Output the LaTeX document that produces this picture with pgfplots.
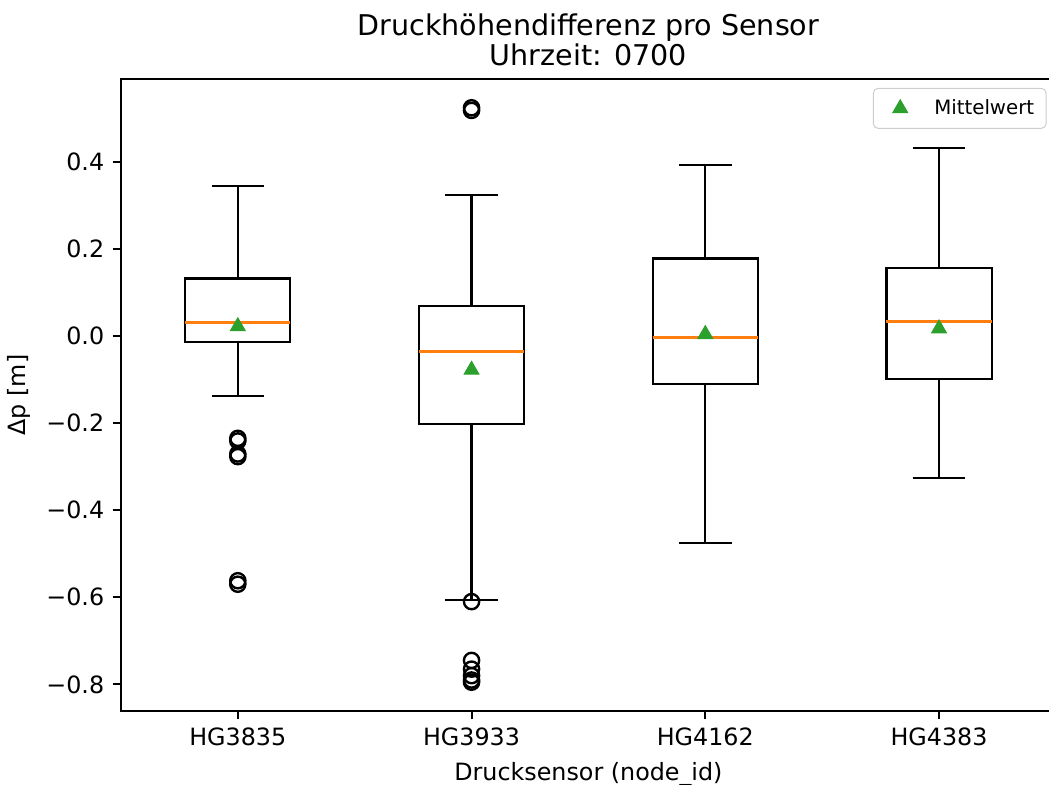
\documentclass[border=0pt]{standalone}
\usepackage{fontspec}
\setmainfont{DejaVu Sans}
\usepackage{pgfplots}
\pgfplotsset{compat=1.18}
\usepgfplotslibrary{statistics}

\definecolor{mplorange}{RGB}{255,127,14}
\definecolor{mplgreen}{RGB}{44,160,44}

\pgfplotsset{
  mplbox/.style={
    black, line width=0.9pt, forget plot,
    mark=o, mark size=3.2pt, mark options={black, line width=1pt},
  },
}

\begin{document}
\begin{tikzpicture}
% page cut like the reference: right spine lies just outside
\path[use as bounding box] (-50.8pt,-31.1pt) rectangle (389.8pt,298.6pt);
\begin{axis}[
    at={(0pt,0pt)}, anchor=south west,
    scale only axis,
    width=392.7pt,
    height=265.4pt,
    xmin=0.5, xmax=4.5,
    ymin=-0.861, ymax=0.590,
    xtick={1,2,3,4},
    xticklabels={HG3835,HG3933,HG4162,HG4383},
    ytick={-0.8,-0.6,-0.4,-0.2,0,0.2,0.4},
    yticklabels={−0.8,−0.6,−0.4,−0.2,0.0,0.2,0.4},
    xtick pos=left, ytick pos=left,
    tick align=outside,
    major tick length=3.5pt,
    tick style={black, line width=0.8pt},
    axis line style={line width=0.8pt},
    ticklabel style={font=\fontsize{10}{12}\selectfont},
    label style={font=\fontsize{10}{12}\selectfont},
    xlabel={Drucksensor (node\_id)},
    ylabel={Δp [m]},
    title={Druckhöhendifferenz pro Sensor\\Uhrzeit: 0700},
    title style={align=center, font=\fontsize{12}{12.6}\selectfont, yshift=-4pt},
    legend style={
      at={(rel axis cs:0.990,0.986)}, anchor=north east,
      draw=black!20, rounded corners=2pt,
      font=\fontsize{8.3}{10}\selectfont,
      inner xsep=3pt, inner ysep=2.5pt,
    },
    legend image code/.code={
      \path[draw=none] (0pt,0pt) -- (20.6pt,0pt);
      \draw[#1] plot coordinates {(8.3pt,0pt)};},
    legend cell align=left,
    boxplot/draw direction=y,
    boxplot/box extend=0.45,
    boxplot/whisker extend=0.225,
    boxplot/every median/.style={draw=mplorange, line width=1.2pt},
]
\addplot[mplbox, boxplot prepared={draw position=1,
    lower whisker=-0.137, lower quartile=-0.013, median=0.030,
    upper quartile=0.132, upper whisker=0.345}]
  table[row sep=\\, y index=0] {y\\ -0.235\\ -0.241\\ -0.271\\ -0.277\\ -0.562\\ -0.570\\};
\addplot[mplbox, boxplot prepared={draw position=2,
    lower whisker=-0.606, lower quartile=-0.202, median=-0.036,
    upper quartile=0.068, upper whisker=0.324}]
  table[row sep=\\, y index=0] {y\\ 0.518\\ 0.524\\ -0.610\\ -0.745\\ -0.765\\ -0.780\\ -0.790\\ -0.795\\};
\addplot[mplbox, boxplot prepared={draw position=3,
    lower whisker=-0.475, lower quartile=-0.111, median=-0.003,
    upper quartile=0.178, upper whisker=0.393}]
  coordinates {};
\addplot[mplbox, boxplot prepared={draw position=4,
    lower whisker=-0.326, lower quartile=-0.099, median=0.033,
    upper quartile=0.157, upper whisker=0.432}]
  coordinates {};

\addplot[only marks, mark=triangle*, mark size=3.6pt, color=mplgreen]
  coordinates {(1,0.022) (2,-0.078) (3,0.004) (4,0.017)};
\addlegendentry{Mittelwert}
\end{axis}
\end{tikzpicture}
\end{document}
